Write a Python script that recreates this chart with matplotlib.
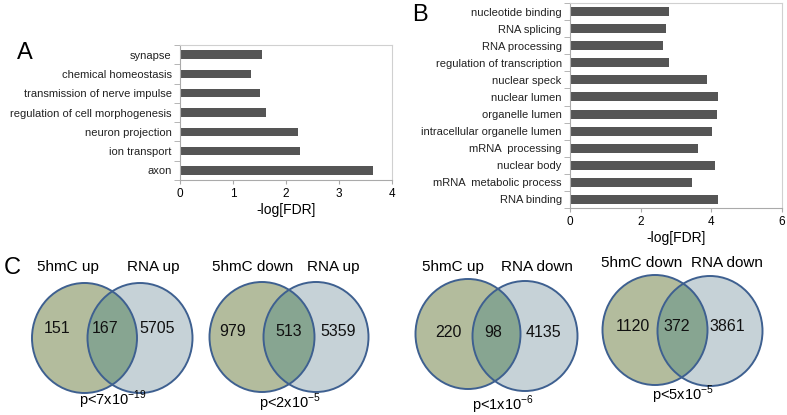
import numpy as np
import matplotlib
matplotlib.use('Agg')
import matplotlib.pyplot as plt
from matplotlib import font_manager
from matplotlib.patches import Ellipse

# panel A data (bottom to top)
a_terms = ['axon', 'ion transport', 'neuron projection', 'regulation of cell morphogenesis',
           'transmission of nerve impulse', 'chemical homeostasis', 'synapse']
a_vals = [3.65, 2.27, 2.22, 1.62, 1.51, 1.34, 1.54]

# panel B data (bottom to top)
b_terms = ['RNA binding', 'mRNA  metabolic process', 'nuclear body', 'mRNA  processing',
           'intracellular organelle lumen', 'organelle lumen', 'nuclear lumen', 'nuclear speck',
           'regulation of transcription', 'RNA processing', 'RNA splicing', 'nucleotide binding']
b_vals = [4.20, 3.44, 4.10, 3.63, 4.02, 4.16, 4.20, 3.89, 2.80, 2.64, 2.72, 2.81]

# panel C venn data
venn_left = ['5hmC up', '5hmC down', '5hmC up', '5hmC down']
venn_right = ['RNA up', 'RNA up', 'RNA down', 'RNA down']
only_left = [151, 979, 220, 1120]
both = [167, 513, 98, 372]
only_right = [5705, 5359, 4135, 3861]
pvals = [('7', '-19'), ('2', '-5'), ('1', '-6'), ('5', '-5')]

names = {f.name for f in font_manager.fontManager.ttflist}
narrow = 'Liberation Sans Narrow' if 'Liberation Sans Narrow' in names else 'Liberation Sans'
lab_size = 9 if narrow == 'Liberation Sans Narrow' else 8
plt.rcParams['font.family'] = ['Liberation Sans', 'DejaVu Sans']
plt.rcParams['mathtext.fontset'] = 'custom'
plt.rcParams['mathtext.rm'] = 'Liberation Sans'

W, H = 787, 415
fig = plt.figure(figsize=(W / 100, H / 100), dpi=100)

def bar_panel(rect, terms, vals, xmax, step, bh):
    l, t, r, b = rect
    ax = fig.add_axes([l / W, 1 - b / H, (r - l) / W, (b - t) / H])
    y = np.arange(len(terms))
    ax.barh(y, vals, height=bh, color='#555555')
    ax.set_xlim(0, xmax)
    ax.set_ylim(-0.5, len(terms) - 0.5)
    ax.set_yticks(y)
    ax.set_yticklabels(terms, fontfamily=narrow, fontsize=lab_size, color='#222222')
    ax.tick_params(axis='y', length=0, pad=6)
    ax.set_yticks(np.arange(len(terms) + 1) - 0.5, minor=True)
    ax.tick_params(axis='y', which='minor', length=4, color='#aaaaaa')
    ax.set_xticks(np.arange(0, xmax + 0.1, step))
    ax.tick_params(axis='x', length=3, color='#aaaaaa', labelsize=8.5, pad=3)
    for s in ax.spines.values():
        s.set_color('#d0d0d0')
        s.set_linewidth(0.8)
    ax.spines['left'].set_color('#aaaaaa')
    ax.spines['bottom'].set_color('#aaaaaa')
    ax.set_xlabel('-log[FDR]', fontfamily=narrow, fontsize=10, labelpad=2)
    return ax

bar_panel((180, 45, 392, 180), a_terms, a_vals, 4, 1, 0.43)
bar_panel((570, 3, 782, 208), b_terms, b_vals, 6, 2, 0.53)

# venn panel in pixel coordinates
vx = fig.add_axes([0, 0, 1, 1])
vx.set_xlim(0, W)
vx.set_ylim(H, 0)
vx.axis('off')

left_c = [(84.5, 338), (262, 337), (468, 334), (655, 330)]
right_c = [(140, 338), (316, 337), (525, 336), (710, 331)]
num_x = [(57, 105, 157), (233, 289, 338), (448, 493, 543), (633, 677, 727)]
num_y = [328, 331, 332, 326]
title_x = [(68, 153), (253, 333), (453, 537), (642, 727)]
title_y = [267, 267, 267, 263]
p_xy = [(113, 400), (290, 403), (503, 405), (683, 395)]
ew, eh = 105, 110

for i in range(4):
    e1 = Ellipse(left_c[i], ew, eh, facecolor='#b3bc9d', edgecolor='none', zorder=1)
    e2 = Ellipse(right_c[i], ew, eh, facecolor='#c6d2d7', edgecolor='none', zorder=1)
    vx.add_patch(e1)
    vx.add_patch(e2)
    clip = Ellipse(right_c[i], ew, eh, facecolor='none', edgecolor='none')
    vx.add_patch(clip)
    mid = Ellipse(left_c[i], ew, eh, facecolor='#87a591', edgecolor='none', zorder=2)
    vx.add_patch(mid)
    mid.set_clip_path(clip)
    for c in (left_c[i], right_c[i]):
        vx.add_patch(Ellipse(c, ew, eh, facecolor='none', edgecolor='#3e6090', lw=1.4, zorder=3))
    for x, v in zip(num_x[i], (only_left[i], both[i], only_right[i])):
        vx.text(x, num_y[i], str(v), ha='center', va='center', fontsize=11.5, color='#111111', zorder=4)
    vx.text(title_x[i][0], title_y[i], venn_left[i], ha='center', va='center', fontsize=11)
    vx.text(title_x[i][1], title_y[i], venn_right[i], ha='center', va='center', fontsize=11)
    m, ex = pvals[i]
    vx.text(p_xy[i][0], p_xy[i][1], 'p<%sx10$^{\\mathregular{%s}}$' % (m, ex),
            ha='center', va='center', fontsize=10.5)

vx.text(25, 53, 'A', ha='center', va='center', fontsize=17)
vx.text(420, 15, 'B', ha='center', va='center', fontsize=17)
vx.text(12, 268, 'C', ha='center', va='center', fontsize=17)

fig.savefig('out.png', dpi=100)
